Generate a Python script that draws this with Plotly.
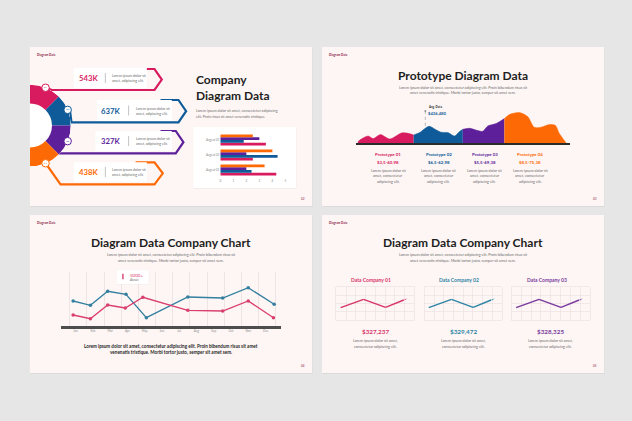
import plotly.graph_objects as go

W, H = 632, 421
FONT = "Lato"

# ---------------- data ----------------
ring_labels = ["01", "02", "03", "04"]
ring_values = ["543K", "637K", "327K", "438K"]

bar_categories = ["Augest 01", "Augest 02", "Augest 03"]
bar_red = [4.3, 2.5, 3.5]
bar_blue = [2.4, 4.4, 1.8]
bar_purple = [2.0, 2.0, 3.0]
bar_orange = [3.4, 4.0, 2.5]
bar_ticks = [0, 1, 2, 3, 4, 5]

area_red_x = [2, 4, 12.3, 17.3, 24.7, 34, 45.7, 52.3, 58]
area_red_y = [1.5, 3.3, 7.3, 4.7, 8.7, 4.3, 10.3, 10, 8.3]
area_blue_x = [58, 64, 73.3, 80.7, 85.7, 92.3, 99, 104, 107.3]
area_blue_y = [8.3, 10.7, 17, 13.3, 11, 10.7, 7.3, 11.7, 14]
area_purple_x = [107.3, 114, 122.3, 127.3, 132.3, 140.7, 149]
area_purple_y = [14, 15, 12.7, 12, 17.3, 19.7, 24.7]
area_orange_x = [149, 154, 164, 172.3, 179, 185.7, 194, 200, 204, 208, 210.7]
area_orange_y = [24.7, 28.7, 30.7, 26.7, 16, 16, 18.7, 18, 10, 4.3, 0.7]
avg_x = [69.7, 69.7]
avg_y = [17.5, 32.3]
avg_label = "$436,480"
proto_names = ["Prototype 01", "Prototype 02", "Prototype 03", "Prototype 04"]
proto_ranges = ["$3,5-60,98", "$6,5-62,98", "$5,5-69,38", "$8,5-75,38"]

months = ["Jan", "Feb", "Mar", "Apr", "May", "Jun", "Jul", "Aug", "Sep", "Oct", "Nov", "Dec"]
line_blue_x = [0.86, 1.86, 2.86, 3.92, 5.1, 7.5, 9.52, 11.0, 12.5]
line_blue = [2500, 2070, 3470, 3170, 830, 2900, 2800, 3830, 2170]
line_red_x = [0.86, 1.86, 2.86, 3.88, 4.9, 7.5, 9.52, 11.0, 12.46]
line_red = [1100, 730, 2100, 1800, 2870, 1570, 1500, 2500, 830]
tooltip_value = "5000+"
tooltip_label = "Asset"

panel_names = ["Data Company 01", "Data Company 02", "Data Company 03"]
panel_totals = ["$327,237", "$329,472", "$328,325"]
panel_x = [0.45, 2.8, 5.05, 7.4]
panel_y = [1.47, 2.49, 1.51, 2.65]

# ---------------- style ----------------
RED, BLUE, PURPLE, ORANGE = "#d81b5e", "#0f5b99", "#5d1f9a", "#fd6a05"
S3_BLUE, S3_PINK = "#337f9f", "#da3d70"
S4_COLORS = ["#d8346c", "#2e84a5", "#7b3a9e"]
DARK = "#1e1e1e"
GREY = "#6b6b6b"
LABEL = "#8c1d3f"
SLIDE_BG = "#fdf6f4"
PAGE_BG = "#e6e6e6"
GRID = "#ebe0e0"

shapes, annotations, traces = [], [], []


def fx(x):
    return x / W


def fy(y):
    return 1 - y / H


def dom_x(a, b):
    return [a / W, b / W]


def dom_y(top, bottom):
    return [1 - bottom / H, 1 - top / H]


def rect(x0, y0, x1, y1, fill, layer="below"):
    shapes.append(dict(type="rect", xref="paper", yref="paper", x0=fx(x0), x1=fx(x1),
                       y0=fy(y1), y1=fy(y0), fillcolor=fill, line=dict(width=0), layer=layer))


def path(points, color, width, layer="below"):
    d = "M " + " L ".join(f"{fx(x):.5f},{fy(y):.5f}" for x, y in points)
    shapes.append(dict(type="path", xref="paper", yref="paper", path=d,
                       line=dict(color=color, width=width), layer=layer))


def text(s, x, y, size, color, bold=False, anchor="center"):
    annotations.append(dict(text=f"<b>{s}</b>" if bold else s, x=fx(x), y=fy(y),
                            xref="paper", yref="paper", xanchor=anchor, yanchor="middle",
                            showarrow=False, borderpad=0,
                            font=dict(family=FONT, size=size, color=color)))


# ---------------- slides ----------------
slides = [(29, 47, 312, 206), (322, 47, 605, 206), (29, 215, 312, 373), (322, 215, 605, 373)]
pages = ["02", "03", "04", "05"]
for (x0, y0, x1, y1), pg in zip(slides, pages):
    rect(x0 + 0.5, y0 + 1, x1 + 0.5, y1 + 1, "rgba(0,0,0,0.05)")
    rect(x0, y0, x1, y1, SLIDE_BG)
    text("Diagram Data", x0 + 6.5, y0 + 8, 3, LABEL, bold=True, anchor="left")
    text(pg, x1 - 9, y1 - 7, 3, LABEL)

# ---------------- slide 1 ----------------
ring_colors = [RED, BLUE, PURPLE, ORANGE]
chevrons = [
    [(46, 88), (51, 90), (154, 90), (161.3, 79.5), (154, 69), (135, 69)],
    [(69, 109), (70.7, 122.3), (178, 122.3), (185.7, 111.2), (178, 100), (160, 100)],
    [(58, 153.3), (175.3, 153.3), (183, 142.2), (175.3, 131), (160, 131)],
    [(46, 165), (59.7, 184.3), (154, 184.3), (162.3, 173.3), (154, 162.3), (135, 162.3)],
]
boxes = [(73, 67.7, 146.3, 88.3), (96.3, 100, 171.3, 121), (94.7, 131, 171.3, 151), (73, 162.3, 146.3, 181.7)]
num_x = [87.5, 110.3, 110.3, 87.5]
sep_x = [104.7, 128, 128, 104.7]
lorem_x = [110.7, 134, 134, 110.7]
for i in range(4):
    path(chevrons[i], ring_colors[i], 2.2)
for i in range(4):
    bx0, by0, bx1, by1 = boxes[i]
    rect(bx0, by0, bx1, by1, "white")
    cy = (by0 + by1) / 2
    path([(sep_x[i], cy - 5), (sep_x[i], cy + 5)], "#9a9a9a", 0.6)
    text(ring_values[i], num_x[i], cy + 0.3, 7.7, ring_colors[i], bold=True)
    text("Lorem ipsum dolor sit", lorem_x[i], cy - 2.4, 3.6, GREY, anchor="left")
    text("amet, adipiscing elit.", lorem_x[i], cy + 2.6, 3.6, GREY, anchor="left")

text("Company", 195, 80, 12, DARK, bold=True, anchor="left")
text("Diagram Data", 195, 96, 12, DARK, bold=True, anchor="left")
text("Lorem ipsum dolor sit amet, consectetur adipiscing", 195, 110.7, 3.7, GREY, anchor="left")
text("elit. Proin risus sit amet venenatis tristique.", 195, 116, 3.7, GREY, anchor="left")

# card for bar chart
rect(193.5, 128, 296.5, 189, "rgba(0,0,0,0.04)")
rect(193, 127, 296, 188, "white")

theta = [90 - 45 * (i + 0.5) for i in range(4)]
traces.append(go.Barpolar(r=[0.46] * 4, base=0.54, theta=theta, width=[45] * 4,
                          marker=dict(color=ring_colors, line=dict(width=0)),
                          subplot="polar", hoverinfo="skip"))
traces.append(go.Scatterpolar(r=[1] * 4, theta=theta, mode="markers+text", text=ring_labels,
                              textposition="middle center",
                              textfont=dict(size=2.6, color=ring_colors, family=FONT),
                              marker=dict(size=7.5, color="white",
                                          line=dict(color=ring_colors, width=1)),
                              cliponaxis=False, subplot="polar", hoverinfo="skip"))

for vals, col in [(bar_red, RED), (bar_blue, BLUE), (bar_purple, PURPLE), (bar_orange, ORANGE)]:
    traces.append(go.Bar(y=bar_categories, x=vals, orientation="h",
                         marker=dict(color=col, line=dict(width=0)),
                         xaxis="x", yaxis="y", hoverinfo="skip"))

# ---------------- slide 2 ----------------
text("Prototype Diagram Data", 463.3, 75, 12, DARK, bold=True)
text("Lorem ipsum dolor sit amet, consectetur adipiscing elit. Proin bibendum risus sit", 463.5, 87.7, 3.7, GREY)
text("amet venenatis tristique. Morbi tortor justo, semper sit amet sem.", 463.5, 93, 3.7, GREY)

area_sets = [(area_red_x, area_red_y, RED), (area_blue_x, area_blue_y, BLUE),
             (area_purple_x, area_purple_y, PURPLE), (area_orange_x, area_orange_y, ORANGE)]
for xs, ys, col in area_sets:
    traces.append(go.Scatter(x=xs, y=ys, mode="lines", fill="tozeroy", fillcolor=col,
                             line=dict(color=col, width=0.5, shape="spline", smoothing=0.8),
                             xaxis="x2", yaxis="y2", hoverinfo="skip"))
traces.append(go.Scatter(x=avg_x, y=avg_y, mode="lines", line=dict(color="#8a8a8a", width=0.6, dash="dot"),
                         xaxis="x2", yaxis="y2", hoverinfo="skip"))
traces.append(go.Scatter(x=avg_x[1:], y=avg_y[1:], mode="markers", marker=dict(size=1.8, color="#8a8a8a"),
                         xaxis="x2", yaxis="y2", hoverinfo="skip"))
text("Avg. Data", 427.5, 107.2, 3, DARK, bold=True, anchor="left")
text(avg_label, 427.5, 113.3, 4.2, BLUE, bold=True, anchor="left")

col_x = [388.5, 439.3, 485.3, 531]
for i in range(4):
    text(proto_names[i], col_x[i], 154.3, 4.4, ring_colors[i], bold=True)
    text(proto_ranges[i], col_x[i], 162.3, 4.4, ring_colors[i], bold=True)
    text("Lorem ipsum dolor sit", col_x[i], 170.3, 3.7, GREY)
    text("amet, consectetur", col_x[i], 175.7, 3.7, GREY)
    text("adipiscing elit.", col_x[i], 181, 3.7, GREY)

# ---------------- slide 3 ----------------
text("Diagram Data Company Chart", 170.3, 242, 12, DARK, bold=True)
text("Lorem ipsum dolor sit amet, consectetur adipiscing elit. Proin bibendum risus sit", 170.7, 254.7, 3.7, GREY)
text("amet venenatis tristique. Morbi tortor justo, semper sit amet sem.", 170.7, 260.3, 3.7, GREY)
text("Lorem ipsum dolor sit amet, consectetur adipiscing elit. Proin bibendum risus sit amet", 170.5, 346.3, 4.6, DARK, bold=True)
text("venenatis tristique. Morbi tortor justo, semper sit amet sem.", 170.5, 352.3, 4.6, DARK, bold=True)

traces.append(go.Scatter(x=line_blue_x, y=line_blue, mode="lines+markers",
                         line=dict(color=S3_BLUE, width=1.3), marker=dict(size=3.5, color=S3_BLUE),
                         xaxis="x3", yaxis="y3", hoverinfo="skip"))
traces.append(go.Scatter(x=line_red_x, y=line_red, mode="lines+markers",
                         line=dict(color=S3_PINK, width=1.3), marker=dict(size=3.5, color=S3_PINK),
                         xaxis="x3", yaxis="y3", hoverinfo="skip"))

rect(116.8, 270.8, 148.8, 284.8, "rgba(0,0,0,0.05)", layer="above")
rect(116.3, 270.3, 148.3, 284.3, "white", layer="above")
rect(121.6, 273.8, 123, 279.3, S3_PINK, layer="above")
text(tooltip_value, 128, 275.3, 4.5, S3_PINK, anchor="left")
text(tooltip_label, 128, 280.4, 3.5, GREY, anchor="left")

# ---------------- slide 4 ----------------
text("Diagram Data Company Chart", 463.3, 242, 12, DARK, bold=True)
text("Lorem ipsum dolor sit amet, consectetur adipiscing elit. Proin bibendum risus sit", 463.5, 254.7, 3.7, GREY)
text("amet venenatis tristique. Morbi tortor justo, semper sit amet sem.", 463.5, 260.3, 3.7, GREY)

panel_dom = [(336.3, 414.7), (424.7, 502.3), (512.3, 590.7)]
for k in range(3):
    a, b = panel_dom[k]
    c = (a + b) / 2
    text(panel_names[k], c - 4, 279.7, 5, S4_COLORS[k], bold=True)
    text(panel_totals[k], c, 331, 6.3, S4_COLORS[k], bold=True)
    text("Lorem ipsum dolor sit amet,", c, 340.3, 3.7, GREY)
    text("consectetur adipiscing elit.", c, 346, 3.7, GREY)
    n = k + 4
    traces.append(go.Scatter(x=panel_x, y=panel_y, mode="lines+markers",
                             line=dict(color=S4_COLORS[k], width=1.4),
                             marker=dict(size=[0, 0, 0, 5], symbol="arrow", angleref="previous",
                                         color=S4_COLORS[k]),
                             xaxis=f"x{n}", yaxis=f"y{n}", hoverinfo="skip", cliponaxis=False))

# ---------------- layout ----------------
fig = go.Figure(traces)
axis_off = dict(showgrid=False, zeroline=False, showticklabels=False, ticks="", showline=False)
layout = dict(
    width=W, height=H, autosize=False, margin=dict(l=0, r=0, t=0, b=0),
    paper_bgcolor=PAGE_BG, plot_bgcolor="rgba(0,0,0,0)", showlegend=False,
    barmode="group", bargap=0.28, bargroupgap=0,
    shapes=shapes, annotations=annotations,
    polar=dict(domain=dict(x=dom_x(29, 70), y=dom_y(84.5, 166.5)), sector=[-90, 90],
               bgcolor="white", hole=0,
               radialaxis=dict(visible=False, range=[0, 1]),
               angularaxis=dict(visible=False)),
    xaxis=dict(domain=dom_x(220, 285.3), range=[0, 5], tickvals=bar_ticks, showgrid=False,
               zeroline=False, showline=False, ticks="", anchor="y",
               tickfont=dict(size=3, color="#888", family=FONT)),
    yaxis=dict(domain=dom_y(132.5, 177.5), type="category", showgrid=False, zeroline=False,
               ticks="", anchor="x", tickfont=dict(size=3, color="#888", family=FONT)),
    xaxis2=dict(domain=dom_x(356, 571.3), range=[0, 215.3], showgrid=False, zeroline=False,
                showticklabels=False, ticks="", showline=True, linecolor="#2b2b2b", linewidth=2,
                anchor="y2"),
    yaxis2=dict(domain=dom_y(100, 143.3), range=[0, 43.3], anchor="x2", **axis_off),
    xaxis3=dict(domain=dom_x(59.7, 281.3), range=[0.13, 12.92], tickvals=list(range(1, 13)),
                ticktext=months, showgrid=False, zeroline=False, ticks="", showline=True,
                linecolor="#4d4d4d", linewidth=2.5, anchor="y3",
                tickfont=dict(size=3, color="#888", family=FONT),
                minor=dict(tick0=0.66, dtick=0.995, showgrid=True, gridcolor=GRID, gridwidth=0.8)),
    yaxis3=dict(domain=dom_y(272, 326), range=[0, 5400], anchor="x3", **axis_off),
)
for k in range(3):
    n = k + 4
    a, b = panel_dom[k]
    common = dict(showgrid=True, gridcolor=GRID, gridwidth=0.6, zeroline=False, showticklabels=False,
                  ticks="", showline=True, mirror=True, linecolor=GRID, linewidth=0.6, dtick=1, tick0=0)
    layout[f"xaxis{n}"] = dict(domain=dom_x(a, b), range=[0, 8], anchor=f"y{n}", **common)
    layout[f"yaxis{n}"] = dict(domain=dom_y(287, 319.7), range=[0, 4], anchor=f"x{n}", **common)

fig.update_layout(**layout)
fig.write_html("out.html", config={"displayModeBar": False, "staticPlot": True},
               post_script="document.body.style.margin='0px';document.body.style.padding='0px';"
                           "document.body.style.background='" + PAGE_BG + "';")
